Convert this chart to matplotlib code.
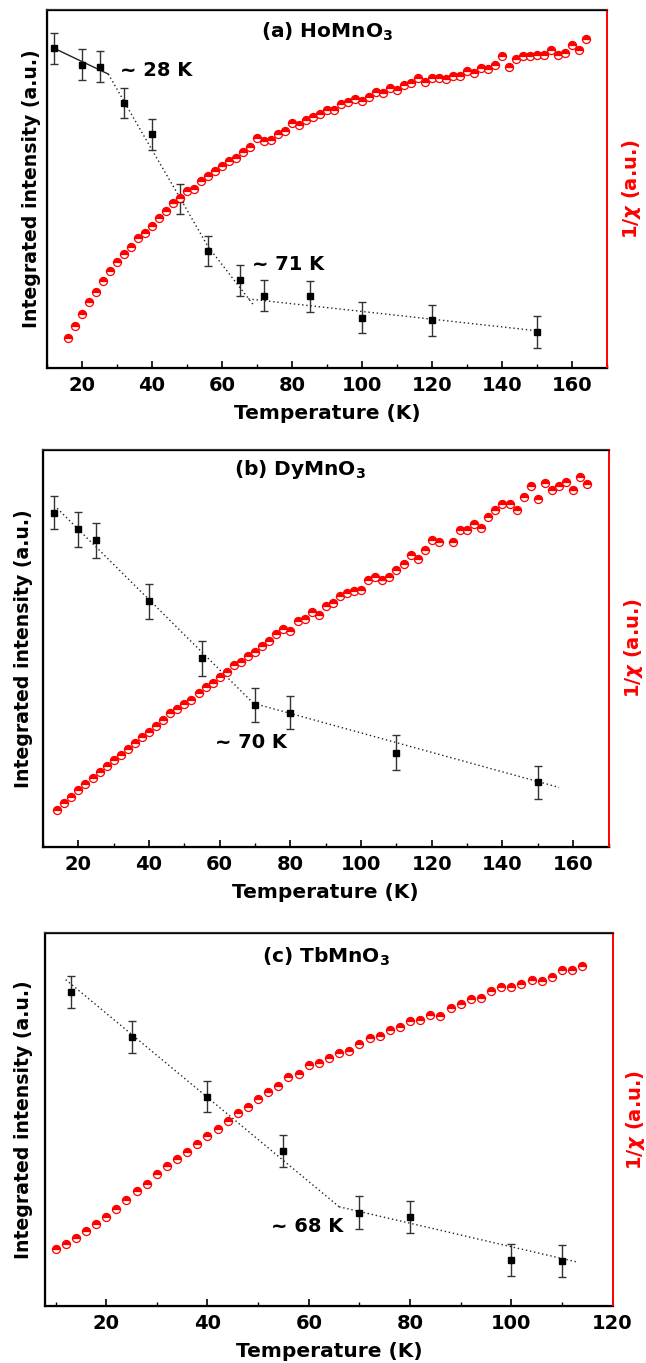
import matplotlib
matplotlib.use("Agg")
import matplotlib.pyplot as plt
from matplotlib.ticker import MultipleLocator

plt.rcParams['font.family'] = ['DejaVu Sans']
plt.rcParams['font.weight'] = 'bold'

# ---- (a) HoMnO3 : neutron integrated intensity (left axis, a.u.) ----
a_T = [12, 20, 25, 32, 40, 48, 56, 65, 72, 85, 100, 120, 150]
a_I = [0.893, 0.847, 0.842, 0.740, 0.653, 0.472, 0.326, 0.245, 0.202, 0.200, 0.141, 0.133, 0.100]
a_err = [0.044, 0.043, 0.042, 0.043, 0.043, 0.043, 0.042, 0.043, 0.044, 0.044, 0.044, 0.044, 0.044]
# guide lines
a_fit1_T = [12, 27.5]
a_fit1_I = [0.893, 0.821]
a_fit2_T = [27.5, 40, 48, 56, 69]
a_fit2_I = [0.821, 0.609, 0.475, 0.339, 0.176]
a_fit3_T = [67.5, 150]
a_fit3_I = [0.193, 0.104]
# 1/chi (right axis, a.u.)
a_chiT = list(range(16, 165, 2))
a_chi = [0.084, 0.118, 0.152, 0.184, 0.211, 0.242, 0.270, 0.295, 0.318, 0.338,
         0.363, 0.377, 0.397, 0.419, 0.439, 0.460, 0.476, 0.493, 0.500, 0.523,
         0.535, 0.549, 0.565, 0.577, 0.586, 0.603, 0.616, 0.642, 0.634, 0.637,
         0.653, 0.662, 0.684, 0.679, 0.693, 0.702, 0.709, 0.721, 0.721, 0.738,
         0.742, 0.752, 0.747, 0.758, 0.772, 0.767, 0.781, 0.777, 0.791, 0.795,
         0.809, 0.800, 0.809, 0.811, 0.807, 0.816, 0.816, 0.830, 0.825, 0.839,
         0.835, 0.847, 0.870, 0.842, 0.862, 0.870, 0.870, 0.874, 0.874, 0.888,
         0.874, 0.879, 0.902, 0.888, 0.918]

# ---- (b) DyMnO3 ----
b_T = [13, 20, 25, 40, 55, 70, 80, 110, 150]
b_I = [0.842, 0.800, 0.772, 0.619, 0.475, 0.357, 0.338, 0.237, 0.163]
b_err = [0.041, 0.044, 0.043, 0.044, 0.044, 0.043, 0.042, 0.044, 0.042]
b_fit1_T = [14, 69.5]
b_fit1_I = [0.853, 0.362]
b_fit2_T = [69.5, 156]
b_fit2_I = [0.362, 0.150]
b_chiT = list(range(14, 123, 2)) + list(range(126, 165, 2))
b_chi = [0.092, 0.111, 0.126, 0.143, 0.159, 0.174, 0.188, 0.203, 0.218, 0.232,
         0.248, 0.262, 0.276, 0.289, 0.304, 0.319, 0.337, 0.347, 0.361, 0.371,
         0.388, 0.403, 0.413, 0.428, 0.440, 0.459, 0.465, 0.482, 0.491, 0.505,
         0.518, 0.536, 0.549, 0.544, 0.568, 0.574, 0.593, 0.583, 0.606, 0.614,
         0.631, 0.639, 0.645, 0.648, 0.673, 0.679, 0.673, 0.681, 0.698, 0.712,
         0.736, 0.725, 0.748, 0.773, 0.769,
         0.767, 0.799, 0.799, 0.813, 0.803, 0.831, 0.849, 0.864, 0.864, 0.849,
         0.881, 0.910, 0.876, 0.916, 0.899, 0.908, 0.920, 0.899, 0.933, 0.914]

# ---- (c) TbMnO3 ----
c_T = [13, 25, 40, 55, 70, 80, 100, 110]
c_I = [0.842, 0.721, 0.561, 0.416, 0.250, 0.239, 0.124, 0.120]
c_err = [0.042, 0.043, 0.041, 0.043, 0.044, 0.042, 0.043, 0.043]
c_fit1_T = [12, 66]
c_fit1_I = [0.875, 0.266]
c_fit2_T = [66, 113]
c_fit2_I = [0.266, 0.118]
c_chiT = list(range(10, 115, 2))
c_chi = [0.154, 0.167, 0.183, 0.201, 0.221, 0.239, 0.261, 0.284, 0.308, 0.326,
         0.354, 0.375, 0.393, 0.414, 0.434, 0.457, 0.474, 0.496, 0.518, 0.533,
         0.555, 0.573, 0.591, 0.613, 0.622, 0.645, 0.651, 0.666, 0.678, 0.684,
         0.703, 0.718, 0.725, 0.739, 0.748, 0.763, 0.767, 0.779, 0.778, 0.800,
         0.809, 0.824, 0.827, 0.845, 0.854, 0.854, 0.864, 0.873, 0.872, 0.882,
         0.902, 0.902, 0.912]

xlabel = "Temperature (K)"
ylabel_left = "Integrated intensity (a.u.)"
ylabel_right = r"1/$\chi$ (a.u.)"

fig = plt.figure(figsize=(6.46, 13.63), dpi=100)


def panel(rect, xlim, xticks, T, I, err, fits, chiT, chi, title, title_xy,
          notes, lab_left_x, lab_right_x):
    ax = fig.add_axes(rect)
    ax2 = ax.twinx()
    ax.set_xlim(*xlim)
    ax.set_ylim(0, 1)
    ax2.set_ylim(0, 1)

    for ft, fi, ls in fits:
        ax.plot(ft, fi, color='#222222', lw=1.0, ls=ls, zorder=2)
    ax.errorbar(T, I, yerr=err, fmt='s', color='black', ms=4.5,
                ecolor='#333333', elinewidth=1.0, capsize=2.8, capthick=1.0,
                zorder=3)
    ax2.plot(chiT, chi, 'o', ls='none', ms=5.8, color='red',
             markerfacecolor='red', markerfacecoloralt='white',
             fillstyle='top', markeredgecolor='red', mew=0.9)

    ax.set_xticks(xticks)
    ax.xaxis.set_minor_locator(MultipleLocator(10))
    ax.tick_params(axis='x', which='major', direction='in', length=5,
                   width=1.2, labelsize=14, pad=6)
    ax.tick_params(axis='x', which='minor', direction='in', length=3, width=1.0)
    ax.set_yticks([])
    ax2.set_yticks([])
    for lbl in ax.get_xticklabels():
        lbl.set_fontweight('bold')

    for sp in ['left', 'bottom']:
        ax.spines[sp].set_linewidth(1.6)
    ax.spines['top'].set_linewidth(1.6)
    ax.spines['top'].set_color('#333333')
    ax2.spines['right'].set_color('red')
    ax2.spines['right'].set_linewidth(1.4)
    ax.spines['right'].set_visible(False)

    ax.set_xlabel(xlabel, fontsize=14.5, fontweight='bold', labelpad=6)
    ax.set_ylabel(ylabel_left, fontsize=13.6, fontweight='bold')
    ax.yaxis.set_label_coords(lab_left_x, rect[1] + rect[3] / 2,
                              transform=fig.transFigure)
    ax2.set_ylabel(ylabel_right, fontsize=14, fontweight='bold', color='red')
    ax2.yaxis.set_label_coords(lab_right_x, rect[1] + rect[3] / 2,
                               transform=fig.transFigure)

    ax.text(title_xy[0], title_xy[1], title, transform=ax.transAxes,
            ha='center', va='center', fontsize=14.5, fontweight='bold')
    for txt, x, y in notes:
        ax.text(x, y, txt, transform=ax.transAxes, ha='left', va='center',
                fontsize=14, fontweight='bold')
    return ax


panel([0.0728, 0.7300, 0.8669, 0.2627], (10, 170), range(20, 161, 20),
      a_T, a_I, a_err,
      [(a_fit1_T, a_fit1_I, '-'), (a_fit2_T, a_fit2_I, (0, (1, 2))),
       (a_fit3_T, a_fit3_I, (0, (1, 2)))],
      a_chiT, a_chi, r"(a) HoMnO$_\mathbf{3}$", (0.5, 0.94),
      [("~ 28 K", 0.13, 0.83), ("~ 71 K", 0.366, 0.288)], 0.0635, 0.960)

panel([0.0666, 0.3786, 0.8754, 0.2913], (10, 170), range(20, 161, 20),
      b_T, b_I, b_err,
      [(b_fit1_T, b_fit1_I, (0, (1, 2))), (b_fit2_T, b_fit2_I, (0, (1, 2)))],
      b_chiT, b_chi, r"(b) DyMnO$_\mathbf{3}$", (0.455, 0.95),
      [("~ 70 K", 0.304, 0.264)], 0.051, 0.963)

panel([0.0703, 0.0418, 0.8780, 0.2737], (8, 120), range(20, 121, 20),
      c_T, c_I, c_err,
      [(c_fit1_T, c_fit1_I, (0, (1, 2))), (c_fit2_T, c_fit2_I, (0, (1, 2)))],
      c_chiT, c_chi, r"(c) TbMnO$_\mathbf{3}$", (0.494, 0.936),
      [("~ 68 K", 0.397, 0.212)], 0.051, 0.966)

fig.savefig("out.png", dpi=100)
